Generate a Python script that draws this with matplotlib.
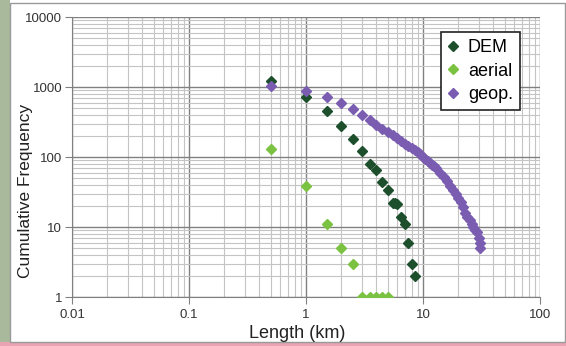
import matplotlib
matplotlib.use("Agg")
import matplotlib.pyplot as plt
from matplotlib.patches import Rectangle
from matplotlib.ticker import LogLocator, NullFormatter

plt.rcParams['font.family'] = ['Liberation Sans', 'DejaVu Sans']

dem_x = [0.5, 1.0, 1.5, 2.0, 2.5, 3.0, 3.5, 4.0, 4.5, 5.0, 5.5, 5.8, 6.0, 6.5, 7.0, 7.5, 8.0, 8.5]
dem_y = [1200, 730, 460, 280, 180, 120, 80, 65, 44, 34, 22, 22, 21, 14, 11, 6, 3, 2]

aerial_x = [0.5, 1.0, 1.5, 2.0, 2.5, 3.0, 3.5, 4.0, 4.5, 5.0]
aerial_y = [130, 38, 11, 5, 3, 1, 1, 1, 1, 1]

geop_x = [0.5, 1.0, 1.5, 2.0, 2.5, 3.0, 3.5, 4.0, 4.5, 5.0, 5.5, 6.0, 6.5, 7.0, 7.5,
          8.0, 8.5, 9.0, 9.5, 10.0, 10.5, 11.0, 11.5, 12.0, 12.5, 13.0, 14.0, 15.0,
          16.0, 17.0, 18.0, 19.0, 20.0, 21.0, 22.0, 23.0, 24.0, 25.0, 26.0, 27.0,
          28.0, 29.0, 30.0, 30.5, 31.0]
geop_y = [1050, 890, 720, 600, 480, 400, 340, 290, 255, 225, 205, 185, 170, 155, 145,
          135, 125, 118, 110, 100, 95, 88, 83, 78, 74, 70, 60, 52,
          45, 38, 34, 30, 26, 23, 19, 16, 14, 12.5, 11, 10,
          9, 8.5, 7, 6, 5]

x_ticks = [0.01, 0.1, 1, 10, 100]
x_labels = ["0.01", "0.1", "1", "10", "100"]
y_ticks = [1, 10, 100, 1000, 10000]
y_labels = ["1", "10", "100", "1000", "10000"]

fig = plt.figure(figsize=(5.66, 3.46), dpi=100)
fig.patch.set_facecolor('white')

# surrounding background pieces and chart frame
fig.patches.append(Rectangle((0, 0), 0.018, 1, transform=fig.transFigure,
                             facecolor='#a9b99c', edgecolor='none', zorder=-10))
fig.patches.append(Rectangle((0, 0), 1, 0.012, transform=fig.transFigure,
                             facecolor='#e9a3b3', edgecolor='none', zorder=-10))
fig.patches.append(Rectangle((0.018, 0.012), 0.98, 0.98, transform=fig.transFigure,
                             facecolor='white', edgecolor='#9a9a9a', lw=1.0, zorder=-9))

ax = fig.add_axes([72/566, 1 - 297/346, (540 - 72)/566, (297 - 17)/346])
ax.set_facecolor('none')
ax.set_xscale('log')
ax.set_yscale('log')
ax.set_xlim(0.01, 100)
ax.set_ylim(1, 10000)

ax.set_xticks(x_ticks)
ax.set_xticklabels(x_labels)
ax.set_yticks(y_ticks)
ax.set_yticklabels(y_labels)
ax.xaxis.set_minor_locator(LogLocator(base=10, subs=range(2, 10), numticks=20))
ax.yaxis.set_minor_locator(LogLocator(base=10, subs=range(2, 10), numticks=20))
ax.xaxis.set_minor_formatter(NullFormatter())
ax.yaxis.set_minor_formatter(NullFormatter())

ax.grid(which='major', color='#808080', lw=1.0)
ax.grid(which='minor', color='#c4c4c4', lw=0.8)
ax.set_axisbelow(True)

for s in ['top', 'right']:
    ax.spines[s].set_visible(False)
ax.spines['left'].set_color('#808080')
ax.spines['bottom'].set_color('#808080')
ax.tick_params(which='major', length=5, color='#808080', labelsize=9.5,
               labelcolor='#333333')
ax.tick_params(axis='y', which='major', pad=2)
ax.tick_params(axis='x', which='major', pad=4)
ax.tick_params(which='minor', length=0)

ms = 5.5
ax.plot(dem_x, dem_y, linestyle='none', marker='D', ms=ms, color='#1d4f2c', label='DEM', zorder=3)
ax.plot(aerial_x, aerial_y, linestyle='none', marker='D', ms=ms, color='#7cc242', label='aerial', zorder=3)
ax.plot(geop_x, geop_y, linestyle='none', marker='D', ms=ms, color='#7a5cb0', label='geop.', zorder=4)

ax.set_xlabel('Length (km)', fontsize=13, color='#222222')
ax.xaxis.set_label_coords((297 - 72) / 468, -(333 - 297) / 280, transform=ax.transAxes)
ax.xaxis.label.set_va('center')
ax.set_ylabel('Cumulative Frequency', fontsize=12.5, color='#222222')
ax.yaxis.set_label_coords(-(72 - 26) / 468, (297 - 191) / 280, transform=ax.transAxes)
ax.yaxis.label.set_va('center')

leg = ax.legend(loc='upper right', bbox_to_anchor=((520 - 72) / 468, (297 - 32) / 280),
                fontsize=13, frameon=True, fancybox=False, edgecolor='#222222', framealpha=1,
                handlelength=0.6, handletextpad=0.5, borderpad=0.4, labelspacing=0.35,
                markerscale=0.9, borderaxespad=0)
leg.get_frame().set_linewidth(1.2)

fig.savefig('out.png', dpi=100)
